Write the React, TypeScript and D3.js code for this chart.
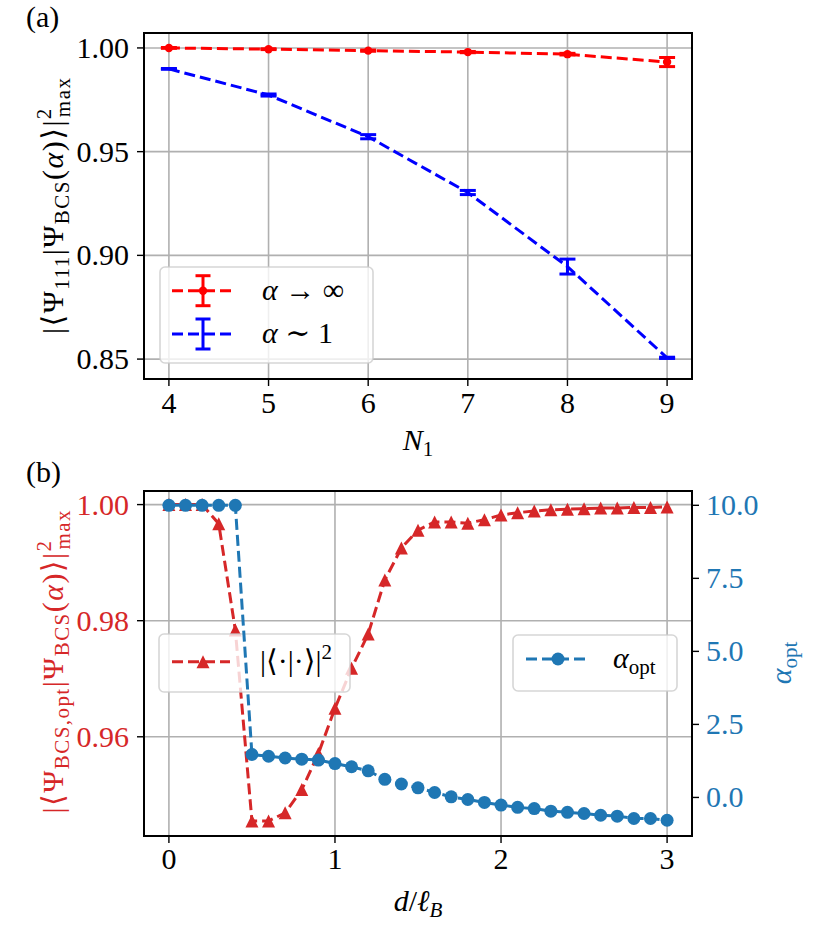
import React from "react";
import * as d3 from "d3";

const N1 = [4, 5, 6, 7, 8, 9];
const fidInf = [1.0, 0.9994, 0.9987, 0.998, 0.997, 0.9932];
const errInf = [0.0002, 0.0002, 0.0003, 0.0003, 0.0004, 0.0022];
const fidOne = [0.9899, 0.9773, 0.9572, 0.9303, 0.8946, 0.8506];
const errOne = [0.0002, 0.0005, 0.001, 0.001, 0.0036, 0.0003];
const topXTicks = [4, 5, 6, 7, 8, 9];
const topYTicks = [0.85, 0.9, 0.95, 1.0];

const dVals = [0, 0.1, 0.2, 0.3, 0.4, 0.5, 0.6, 0.7, 0.8, 0.9, 1.0, 1.1, 1.2, 1.3, 1.4, 1.5, 1.6, 1.7, 1.8, 1.9, 2.0, 2.1, 2.2, 2.3, 2.4, 2.5, 2.6, 2.7, 2.8, 2.9, 3.0];
const overlap = [1.0, 1.0, 1.0, 0.9967, 0.9784, 0.9455, 0.9455, 0.9469, 0.9509, 0.9571, 0.9649, 0.9718, 0.9777, 0.987, 0.9925, 0.9956, 0.997, 0.997, 0.9968, 0.9974, 0.9982, 0.9986, 0.9989, 0.9991, 0.9992, 0.9993, 0.9994, 0.9994, 0.9995, 0.9995, 0.9996];
const alphaOpt = [10, 10, 10, 10, 10, 1.47, 1.41, 1.35, 1.31, 1.28, 1.16, 1.05, 0.91, 0.62, 0.46, 0.33, 0.17, 0.02, -0.07, -0.17, -0.26, -0.34, -0.38, -0.47, -0.51, -0.55, -0.61, -0.64, -0.72, -0.72, -0.78];
const botXTicks = [0, 1, 2, 3];
const botYTicks = [0.96, 0.98, 1.0];
const botY2Ticks = [0, 2.5, 5, 7.5, 10];

const FONT = "'Liberation Serif', 'DejaVu Serif', serif";
const FS = 30;
const SFS = 21;
const RED = "#ff0000";
const BLUE = "#0000ff";
const TRED = "#d62728";
const TBLUE = "#1f77b4";
const GRID = "#b0b0b0";

const L = 144, R = 692;
const T1 = 33, B1 = 379;
const T2 = 491, B2 = 836;

export default function App() {
  const x1 = d3.scaleLinear().domain([3.75, 9.25]).range([L, R]);
  const y1 = d3.scaleLinear().domain([0.8404, 1.0072]).range([B1, T1]);
  const x2 = d3.scaleLinear().domain([-0.15, 3.15]).range([L, R]);
  const y2 = d3.scaleLinear().domain([0.94291, 1.00234]).range([B2, T2]);
  const y3 = d3.scaleLinear().domain([-1.32, 10.49]).range([B2, T2]);

  const lineTop = d3.line<number>().x((_, i) => x1(N1[i])).y((v) => y1(v));
  const lineRed = d3.line<number>().x((_, i) => x2(dVals[i])).y((v) => y2(v));
  const lineBlue = d3.line<number>().x((_, i) => x2(dVals[i])).y((v) => y3(v));

  const tri = (cx: number, cy: number, s: number) =>
    `M${cx},${cy - s} L${cx + s},${cy + s} L${cx - s},${cy + s} Z`;

  const errBars = (vals: number[], errs: number[], color: string) =>
    vals.map((v, i) => {
      const cx = x1(N1[i]);
      const ya = y1(v + errs[i]);
      const yb = y1(v - errs[i]);
      return (
        <g key={i} stroke={color} strokeWidth={3}>
          <line x1={cx} x2={cx} y1={ya} y2={yb} />
          <line x1={cx - 8} x2={cx + 8} y1={ya} y2={ya} />
          <line x1={cx - 8} x2={cx + 8} y1={yb} y2={yb} />
        </g>
      );
    });

  return (
    <svg width={830} height={950} style={{ position: "absolute", left: 0, top: 0, background: "#fff" }} fontFamily={FONT}>
      <defs>
        <clipPath id="c1"><rect x={L} y={T1} width={R - L} height={B1 - T1} /></clipPath>
        <clipPath id="c2"><rect x={L} y={T2} width={R - L} height={B2 - T2} /></clipPath>
      </defs>
      <rect x={0} y={0} width={830} height={950} fill="#fff" />

      {/* ===== Panel (a) ===== */}
      <text x={26} y={27} fontSize={FS}>(a)</text>
      <g stroke={GRID} strokeWidth={1.6}>
        {topXTicks.map((t) => <line key={"gx" + t} x1={x1(t)} x2={x1(t)} y1={T1} y2={B1} />)}
        {topYTicks.map((t) => <line key={"gy" + t} x1={L} x2={R} y1={y1(t)} y2={y1(t)} />)}
      </g>
      <g clipPath="url(#c1)">
        <path d={lineTop(fidInf) || ""} fill="none" stroke={RED} strokeWidth={3} strokeDasharray="11,5" />
        {errBars(fidInf, errInf, RED)}
        {fidInf.map((v, i) => <circle key={i} cx={x1(N1[i])} cy={y1(v)} r={4.2} fill={RED} />)}
        <path d={lineTop(fidOne) || ""} fill="none" stroke={BLUE} strokeWidth={3} strokeDasharray="11,5" />
        {errBars(fidOne, errOne, BLUE)}
      </g>
      {/* legend (a) */}
      <g>
        <rect x={160} y={267} width={213} height={96} rx={5} fill="#fff" fillOpacity={0.8} stroke="#cccccc" strokeOpacity={0.8} strokeWidth={1.6} />
        <g stroke={RED} strokeWidth={3}>
          <line x1={172} x2={235} y1={290.7} y2={290.7} strokeDasharray="11,5" />
          <line x1={203} x2={203} y1={275.7} y2={305.7} />
          <line x1={195.5} x2={210.5} y1={275.7} y2={275.7} />
          <line x1={195.5} x2={210.5} y1={305.7} y2={305.7} />
        </g>
        <circle cx={203} cy={290.7} r={4.2} fill={RED} />
        <g stroke={BLUE} strokeWidth={3}>
          <line x1={172} x2={235} y1={334} y2={334} strokeDasharray="11,5" />
          <line x1={203} x2={203} y1={319} y2={349} />
          <line x1={195.5} x2={210.5} y1={319} y2={319} />
          <line x1={195.5} x2={210.5} y1={349} y2={349} />
        </g>
        <text x={262} y={300} fontSize={FS}><tspan fontStyle="italic">α</tspan> → ∞</text>
        <text x={262} y={343} fontSize={FS}><tspan fontStyle="italic">α</tspan> ∼ 1</text>
      </g>
      {/* frame & ticks (a) */}
      <rect x={L} y={T1} width={R - L} height={B1 - T1} fill="none" stroke="#000" strokeWidth={2} />
      <g stroke="#000" strokeWidth={1.4}>
        {topXTicks.map((t) => <line key={"tx" + t} x1={x1(t)} x2={x1(t)} y1={B1} y2={B1 + 7} />)}
        {topYTicks.map((t) => <line key={"ty" + t} x1={L - 7} x2={L} y1={y1(t)} y2={y1(t)} />)}
      </g>
      {topXTicks.map((t) => <text key={"lx" + t} x={x1(t)} y={413} fontSize={FS} textAnchor="middle">{t}</text>)}
      {topYTicks.map((t) => <text key={"ly" + t} x={129} y={y1(t) + 10} fontSize={FS} textAnchor="end">{t.toFixed(2)}</text>)}
      <text x={(L + R) / 2} y={450} fontSize={FS} textAnchor="middle">
        <tspan fontStyle="italic">N</tspan><tspan fontSize={SFS} dy={6}>1</tspan>
      </text>
      <text transform="translate(63,206) rotate(-90)" fontSize={FS} textAnchor="middle" textLength={256} lengthAdjust="spacing">
        <tspan>|⟨Ψ</tspan><tspan fontSize={SFS} dy={6}>111</tspan><tspan dy={-6}>|Ψ</tspan><tspan fontSize={SFS} dy={6}>BCS</tspan><tspan dy={-6}>(</tspan><tspan fontStyle="italic">α</tspan><tspan>)⟩|</tspan><tspan fontSize={SFS} dy={-12}>2</tspan><tspan fontSize={SFS} dx={-10} dy={19}>max</tspan>
      </text>

      {/* ===== Panel (b) ===== */}
      <text x={26} y={482} fontSize={FS}>(b)</text>
      <g stroke={GRID} strokeWidth={1.6}>
        {botXTicks.map((t) => <line key={"bgx" + t} x1={x2(t)} x2={x2(t)} y1={T2} y2={B2} />)}
        {botYTicks.map((t) => <line key={"bgy" + t} x1={L} x2={R} y1={y2(t)} y2={y2(t)} />)}
      </g>
      <g clipPath="url(#c2)">
        <path d={lineRed(overlap) || ""} fill="none" stroke={TRED} strokeWidth={3} strokeDasharray="11,5" />
        {overlap.map((v, i) => <path key={i} d={tri(x2(dVals[i]), y2(v), 6.5)} fill={TRED} />)}
      </g>
      {/* legend ax1 */}
      <g>
        <rect x={159} y={634} width={191} height={58} rx={5} fill="#fff" fillOpacity={0.8} stroke="#cccccc" strokeOpacity={0.8} strokeWidth={1.6} />
        <line x1={172} x2={230} y1={661.7} y2={661.7} stroke={TRED} strokeWidth={3} strokeDasharray="11,5" />
        <path d={tri(203, 661.7, 6.5)} fill={TRED} />
        <text x={260} y={671} fontSize={FS}>|⟨·|·⟩|<tspan fontSize={SFS} dy={-12}>2</tspan></text>
      </g>
      <g clipPath="url(#c2)">
        <path d={lineBlue(alphaOpt) || ""} fill="none" stroke={TBLUE} strokeWidth={3} strokeDasharray="11,5" />
        {alphaOpt.map((v, i) => <circle key={i} cx={x2(dVals[i])} cy={y3(v)} r={6.5} fill={TBLUE} />)}
      </g>
      {/* legend ax2 */}
      <g>
        <rect x={513} y={635} width={164} height={56} rx={5} fill="#fff" fillOpacity={0.8} stroke="#cccccc" strokeOpacity={0.8} strokeWidth={1.6} />
        <line x1={526} x2={589} y1={659} y2={659} stroke={TBLUE} strokeWidth={3} strokeDasharray="11,5" />
        <circle cx={558} cy={659} r={6.5} fill={TBLUE} />
        <text x={613} y={668} fontSize={FS}><tspan fontStyle="italic">α</tspan><tspan fontSize={SFS} dy={6}>opt</tspan></text>
      </g>
      {/* frame & ticks (b) */}
      <rect x={L} y={T2} width={R - L} height={B2 - T2} fill="none" stroke="#000" strokeWidth={2} />
      <g stroke="#000" strokeWidth={1.4}>
        {botXTicks.map((t) => <line key={"btx" + t} x1={x2(t)} x2={x2(t)} y1={B2} y2={B2 + 7} />)}
        {botYTicks.map((t) => <line key={"bty" + t} x1={L - 7} x2={L} y1={y2(t)} y2={y2(t)} />)}
        {botY2Ticks.map((t) => <line key={"bty2" + t} x1={R} x2={R + 7} y1={y3(t)} y2={y3(t)} />)}
      </g>
      {botXTicks.map((t) => <text key={"blx" + t} x={x2(t)} y={869} fontSize={FS} textAnchor="middle">{t}</text>)}
      {botYTicks.map((t) => <text key={"bly" + t} x={129} y={y2(t) + 10} fontSize={FS} textAnchor="end" fill={TRED}>{t.toFixed(2)}</text>)}
      {botY2Ticks.map((t) => <text key={"bly2" + t} x={706} y={y3(t) + 10} fontSize={FS} textAnchor="start" fill={TBLUE}>{t.toFixed(1)}</text>)}
      <text x={(L + R) / 2} y={911} fontSize={FS} textAnchor="middle">
        <tspan fontStyle="italic">d</tspan>/<tspan fontStyle="italic">ℓ</tspan><tspan fontSize={SFS} fontStyle="italic" dy={6}>B</tspan>
      </text>
      <text transform="translate(63,662) rotate(-90)" fontSize={FS} textAnchor="middle" fill={TRED} textLength={303} lengthAdjust="spacing">
        <tspan>|⟨Ψ</tspan><tspan fontSize={SFS} dy={6}>BCS,opt</tspan><tspan dy={-6}>|Ψ</tspan><tspan fontSize={SFS} dy={6}>BCS</tspan><tspan dy={-6}>(</tspan><tspan fontStyle="italic">α</tspan><tspan>)⟩|</tspan><tspan fontSize={SFS} dy={-12}>2</tspan><tspan fontSize={SFS} dx={-10} dy={19}>max</tspan>
      </text>
      <text transform="translate(791,663) rotate(-90)" fontSize={FS} textAnchor="middle" fill={TBLUE}>
        <tspan fontStyle="italic">α</tspan><tspan fontSize={SFS} dy={6}>opt</tspan>
      </text>
    </svg>
  );
}
